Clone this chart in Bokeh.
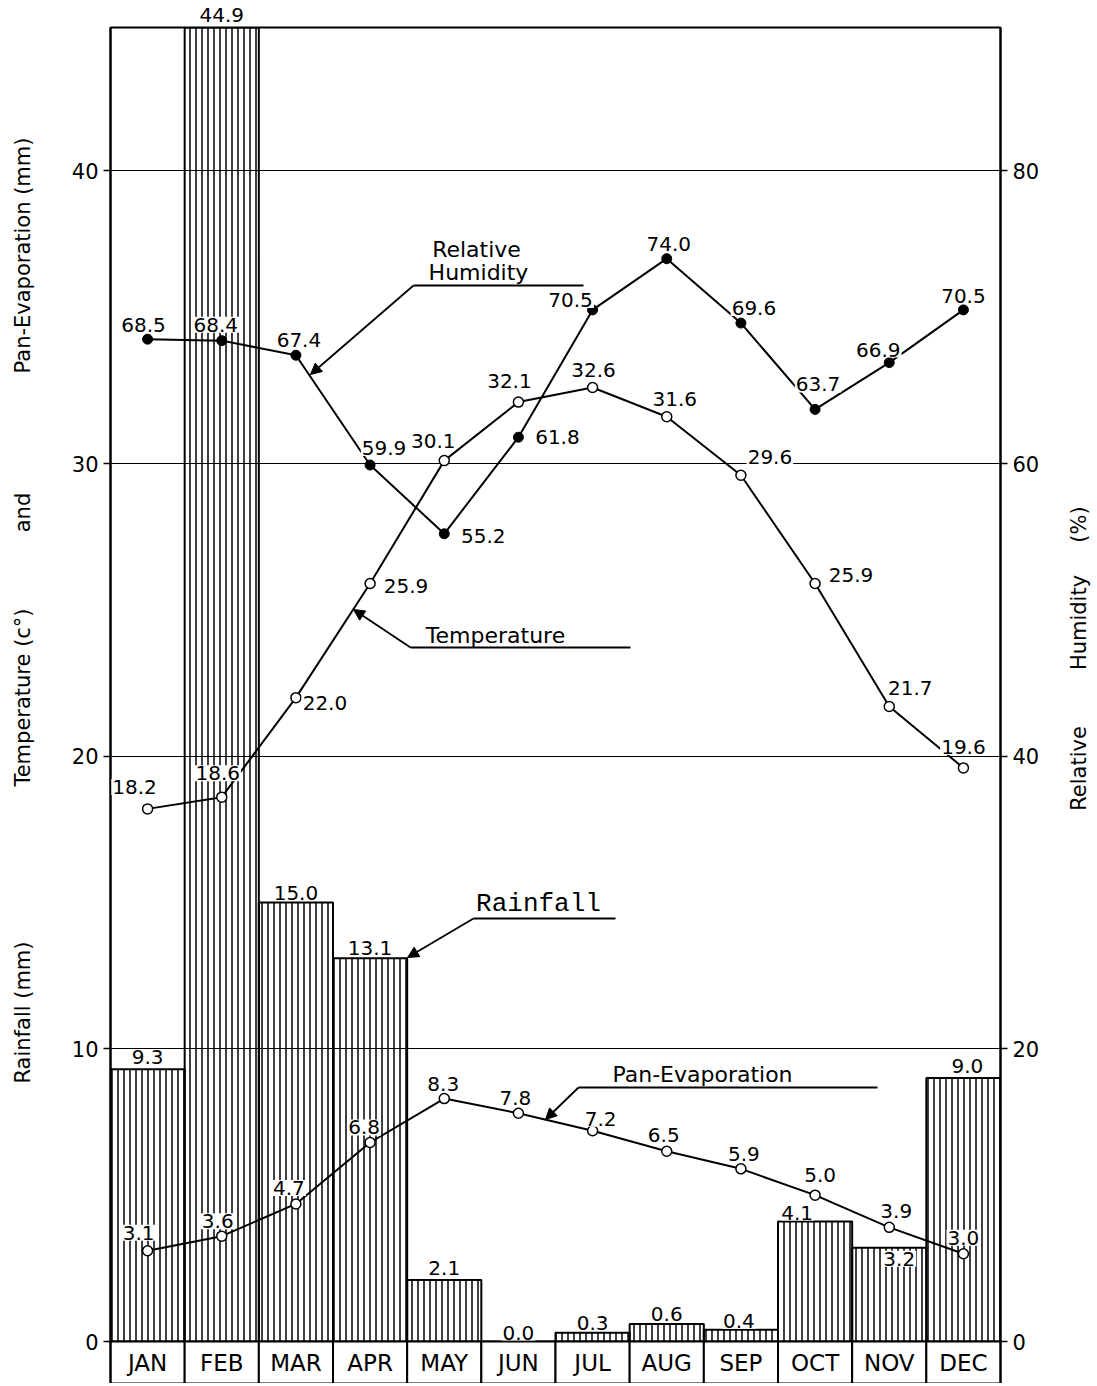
import math
from bokeh.plotting import figure
from bokeh.models import Range1d, LinearAxis, FixedTicker, Arrow, NormalHead
from bokeh.embed import file_html
from bokeh.resources import INLINE
from bokeh.core.properties import value

# ---------------- data ----------------
months = ["JAN", "FEB", "MAR", "APR", "MAY", "JUN", "JUL", "AUG", "SEP", "OCT", "NOV", "DEC"]
rainfall = [9.3, 44.9, 15.0, 13.1, 2.1, 0.0, 0.3, 0.6, 0.4, 4.1, 3.2, 9.0]
pan_evaporation = [3.1, 3.6, 4.7, 6.8, 8.3, 7.8, 7.2, 6.5, 5.9, 5.0, 3.9, 3.0]
temperature = [18.2, 18.6, 22.0, 25.9, 30.1, 32.1, 32.6, 31.6, 29.6, 25.9, 21.7, 19.6]
humidity = [68.5, 68.4, 67.4, 59.9, 55.2, 61.8, 70.5, 74.0, 69.6, 63.7, 66.9, 70.5]
left_ticks = [0, 10, 20, 30, 40]
right_ticks = [0, 20, 40, 60, 80]

# ---------------- label offsets (px: dx right, dy up) ----------------
rain_off = [(0, 12), (0, 13), (0, 10), (0, 10), (0, 12), (0, 9), (0, 10), (0, 10), (-2, 9), (-18, 9), (10, -11), (4, 12)]
pan_off = [(-9, 18), (-4, 15), (-7, 16), (-6, 15), (-1, 15), (-3, 15), (8, 12), (-3, 16), (3, 15), (5, 20), (7, 16), (0, 16)]
temp_off = [(-13, 22), (-4, 24), (29, -5), (36, -2), (-11, 20), (-9, 21), (1, 17), (8, 18), (29, 18), (36, 9), (21, 18), (0, 21)]
rh_off = [(-4, 14), (-6, 16), (3, 15), (14, 17), (39, -2), (39, 0), (-22, 10), (2, 15), (13, 15), (3, 25), (-11, 13), (0, 14)]

# ---------------- geometry ----------------
FRAME_L, FRAME_T, FW, FH = 110, 27, 890, 1356
Y0PX = 1341
YTOP = 44.9
SY = (Y0PX - FRAME_T) / YTOP
Y_START = -(FRAME_T + FH - Y0PX) / SY
MW = FW / 12.0


def px2x(px):
    return 0.5 + (px - FRAME_L) / MW


def px2y(py):
    return (Y0PX - py) / SY


FONT = value("DejaVu Sans")
xs = list(range(1, 13))

p = figure(width=FRAME_L + FW + 92, height=FRAME_T + FH, min_border_left=FRAME_L, min_border_right=92,
           min_border_top=FRAME_T, min_border_bottom=0,
           x_range=Range1d(0.5, 12.5), y_range=Range1d(Y_START, YTOP),
           x_axis_location=None, output_backend="svg", toolbar_location=None)
p.background_fill_color = "white"
p.border_fill_color = "white"
p.outline_line_color = "black"
p.outline_line_width = 2
p.xgrid.visible = False
p.ygrid.ticker = FixedTicker(ticks=left_ticks)
p.ygrid.grid_line_color = "black"
p.ygrid.grid_line_width = 1.2

ax = p.yaxis[0]
ax.ticker = FixedTicker(ticks=left_ticks)

p.extra_y_ranges = {"rh": Range1d(2 * Y_START, 2 * YTOP)}
rax = LinearAxis(y_range_name="rh", ticker=FixedTicker(ticks=right_ticks))
p.add_layout(rax, "right")

for a in (ax, rax):
    a.axis_line_color = "black"
    a.axis_line_width = 2
    a.major_tick_out = 7
    a.major_tick_in = 0
    a.major_tick_line_color = "black"
    a.major_tick_line_width = 1.5
    a.minor_tick_line_color = None
    a.major_label_text_font = "DejaVu Sans"
    a.major_label_text_font_size = "21px"
    a.major_label_text_color = "black"
    a.major_label_standoff = 5

# rainfall bars (hatched)
p.vbar(x=xs, top=rainfall, bottom=0, width=1.0, fill_color=None, line_color="black",
       line_width=2, hatch_pattern="vertical_line", hatch_color="black",
       hatch_scale=6, hatch_weight=1.5)

# month boxes
p.quad(left=[x - 0.5 for x in xs], right=[x + 0.5 for x in xs], top=0, bottom=Y_START,
       fill_color="white", line_color="black", line_width=2)
p.text(x=xs, y=[Y_START / 2] * 12, text=months, text_align="center", text_baseline="middle",
       text_font=FONT, text_font_size="23px", text_color="black")

# lines
p.line(xs, pan_evaporation, line_color="black", line_width=2)
p.scatter(xs, pan_evaporation, size=10, fill_color="white", line_color="black", line_width=1.5)
p.line(xs, temperature, line_color="black", line_width=2)
p.scatter(xs, temperature, size=10, fill_color="white", line_color="black", line_width=1.5)
p.line(xs, humidity, y_range_name="rh", line_color="black", line_width=2)
p.scatter(xs, humidity, y_range_name="rh", size=10, fill_color="black", line_color="black")


def labels(vals, offs, rng="default"):
    kw = {}
    if rng != "default":
        kw["y_range_name"] = rng
    p.text(x=xs, y=vals, text=[f"{v:.1f}" for v in vals],
           x_offset=[o[0] for o in offs], y_offset=[-o[1] for o in offs],
           text_align="center", text_baseline="middle", text_font=FONT,
           text_font_size="20px", text_color="black",
           background_fill_color="white", padding=1, level="overlay", **kw)


labels(rainfall, rain_off)
labels(pan_evaporation, pan_off)
labels(temperature, temp_off)
labels(humidity, rh_off, "rh")


# leader lines with arrows
def leader(under, tip):
    (ux0, uy), (ux1, _) = under
    p.line([px2x(ux1), px2x(ux0)], [px2y(uy), px2y(uy)], line_color="black", line_width=1.8)
    p.add_layout(Arrow(end=NormalHead(size=11, fill_color="black", line_color="black"),
                       x_start=px2x(ux0), y_start=px2y(uy), x_end=px2x(tip[0]), y_end=px2y(tip[1]),
                       line_color="black", line_width=1.8))


leader(((413, 285), (583, 285)), (310, 374))
leader(((410, 647), (630, 647)), (353, 609))
leader(((473, 918), (615, 918)), (407, 957))
leader(((578, 1087), (877, 1087)), (545, 1119))


def note(text, px, py, size="22px", font="DejaVu Sans", angle=0.0):
    p.text(x=[px2x(px)], y=[px2y(py)], text=[text], angle=angle, text_align="center",
           text_baseline="middle", text_font=value(font), text_font_size=size,
           text_color="black", level="overlay")


note("Relative", 476, 249)
note("Humidity", 478, 272)
note("Temperature", 495, 635)
note("Rainfall", 538, 903, size="26px", font="Liberation Mono")
note("Pan-Evaporation", 702, 1074)

# axis titles
note("Pan-Evaporation (mm)", 22, 255, size="21px", angle=math.pi / 2)
note("and", 22, 512, size="21px", angle=math.pi / 2)
note("Temperature (c°)", 22, 697, size="21px", angle=math.pi / 2)
note("Rainfall (mm)", 22, 1012, size="21px", angle=math.pi / 2)
note("Relative", 1078, 768, size="21px", angle=math.pi / 2)
note("Humidity", 1078, 622, size="21px", angle=math.pi / 2)
note("(%)", 1078, 524, size="21px", angle=math.pi / 2)

open("out.html", "w").write(file_html(p, INLINE))
